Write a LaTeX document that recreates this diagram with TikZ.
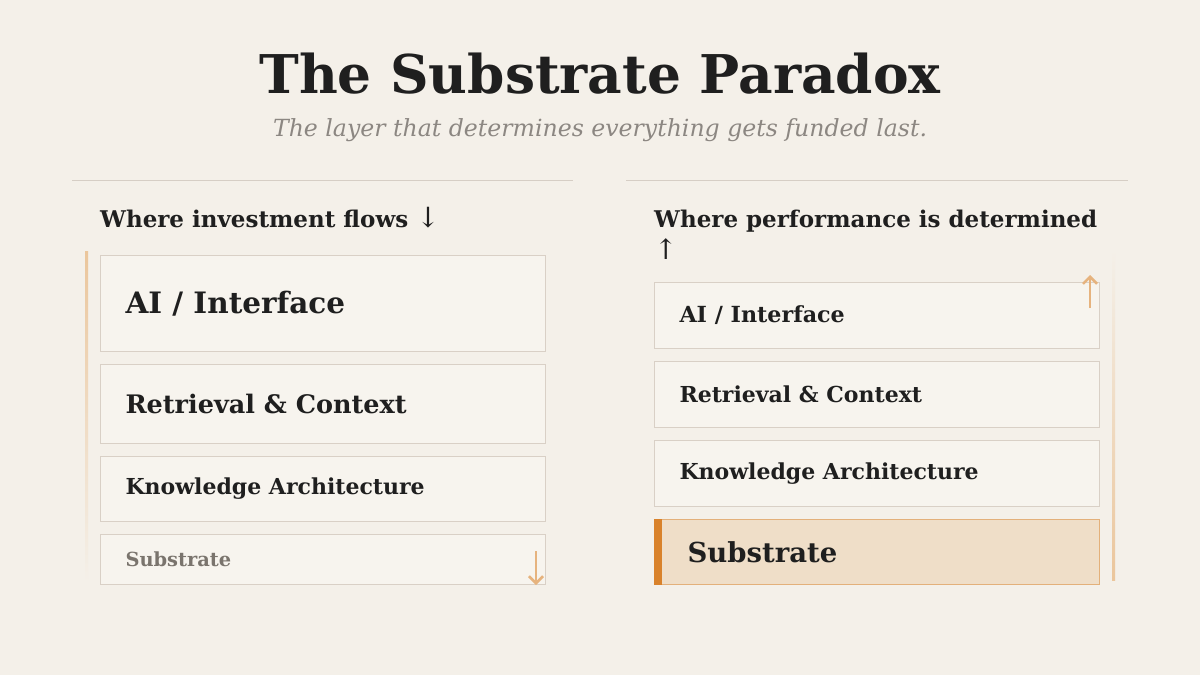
\documentclass[tikz,border=0pt]{standalone}
\usepackage{fontspec}
\setmainfont{DejaVu Serif}
\usetikzlibrary{arrows.meta}

\definecolor{paper}{HTML}{F4F0E9}
\definecolor{boxfill}{HTML}{F7F4EE}
\definecolor{boxline}{HTML}{D9D0C6}
\definecolor{ink}{HTML}{1F1F1F}
\definecolor{muted}{HTML}{8C8782}
\definecolor{faded}{HTML}{7A746D}
\definecolor{rulec}{HTML}{D6CEC5}
\definecolor{accent}{HTML}{E6B37E}
\definecolor{accentlight}{HTML}{EBC69C}
\definecolor{subfill}{HTML}{EFDEC8}
\definecolor{subline}{HTML}{E3B07A}
\definecolor{subbar}{HTML}{D9822B}

\newcommand{\fsz}[2][1.2]{\fontsize{#2}{#1\dimexpr#2pt\relax}\selectfont\spaceskip=0pt\xspaceskip=0pt}

\begin{document}
\begin{tikzpicture}[x=1pt,y=-1pt,
    layer/.style={draw=boxline, fill=boxfill, line width=1pt, anchor=north west,
      inner xsep=25pt, inner ysep=0pt, text width=395pt, align=left, text=ink},
    heading/.style={anchor=base west, inner sep=0pt, text=ink, text width=460pt, align=left},
    flow/.style={accent, line width=2.5pt, -{Straight Barb[length=7pt,width=14pt]}}]
  \useasboundingbox[fill=paper] (0,0) rectangle (1200,675);

  % title
  \node (title) [anchor=base, text=ink] at (600,93) {\fsz{53.4}\bfseries The Substrate Paradox};
  \node (subtitle) [anchor=base, text=muted] at (600,136) {\fsz{23.6}\itshape The layer that determines everything gets funded last.};

  \draw[rulec] (72,180) -- (573,180);
  \draw[rulec] (626,180) -- (1128,180);

  % left column
  \node (lhead) [heading] at (100,227) {\fsz{23}\bfseries Where investment flows {\mdseries\fsz{28}↓}};
  \shade[top color=accentlight, bottom color=paper] (85,251) rectangle (88,582);
  \node (lai) [layer, minimum height=96pt] at (100,255) {\fsz{29.5}\bfseries AI / Interface};
  \node (lret) [layer, minimum height=79pt] at (100,364) {\fsz{25.5}\bfseries Retrieval \& Context};
  \node (lka) [layer, minimum height=65pt] at (100,456) {\fsz{22}\bfseries Knowledge Architecture};
  \node (lsub) [layer, minimum height=50pt, text=faded] at (100,534) {\fsz{19.4}\bfseries Substrate};
  \coordinate (ldown) at (536,551);
  \draw[flow] (ldown) -- (ldown |- lsub.south);

  % right column
  \node (rhead) [heading] at (654,227) {\fsz{23}\bfseries Where performance is determined\\[6pt]\mdseries\fsz[1.1]{28}↑};
  \shade[top color=paper, bottom color=accentlight] (1112,250) rectangle (1115,580);
  \node (rai) [layer, minimum height=66pt] at (654,282) {\fsz{22.2}\bfseries AI / Interface};
  \node (rret) [layer, minimum height=66pt] at (654,361) {\fsz{22}\bfseries Retrieval \& Context};
  \node (rka) [layer, minimum height=66pt] at (654,440) {\fsz{22}\bfseries Knowledge Architecture};
  \node (rsub) [layer, minimum height=65pt, draw=subline, fill=subfill] at (654,519) {\hspace*{8pt}\fsz{27.5}\bfseries Substrate};
  \fill[subbar] (rsub.north west) rectangle ([xshift=8pt]rsub.south west);
  \coordinate (rup) at (1090,308);
  \draw[flow] (rup) -- (1090,275);
\end{tikzpicture}
\end{document}
